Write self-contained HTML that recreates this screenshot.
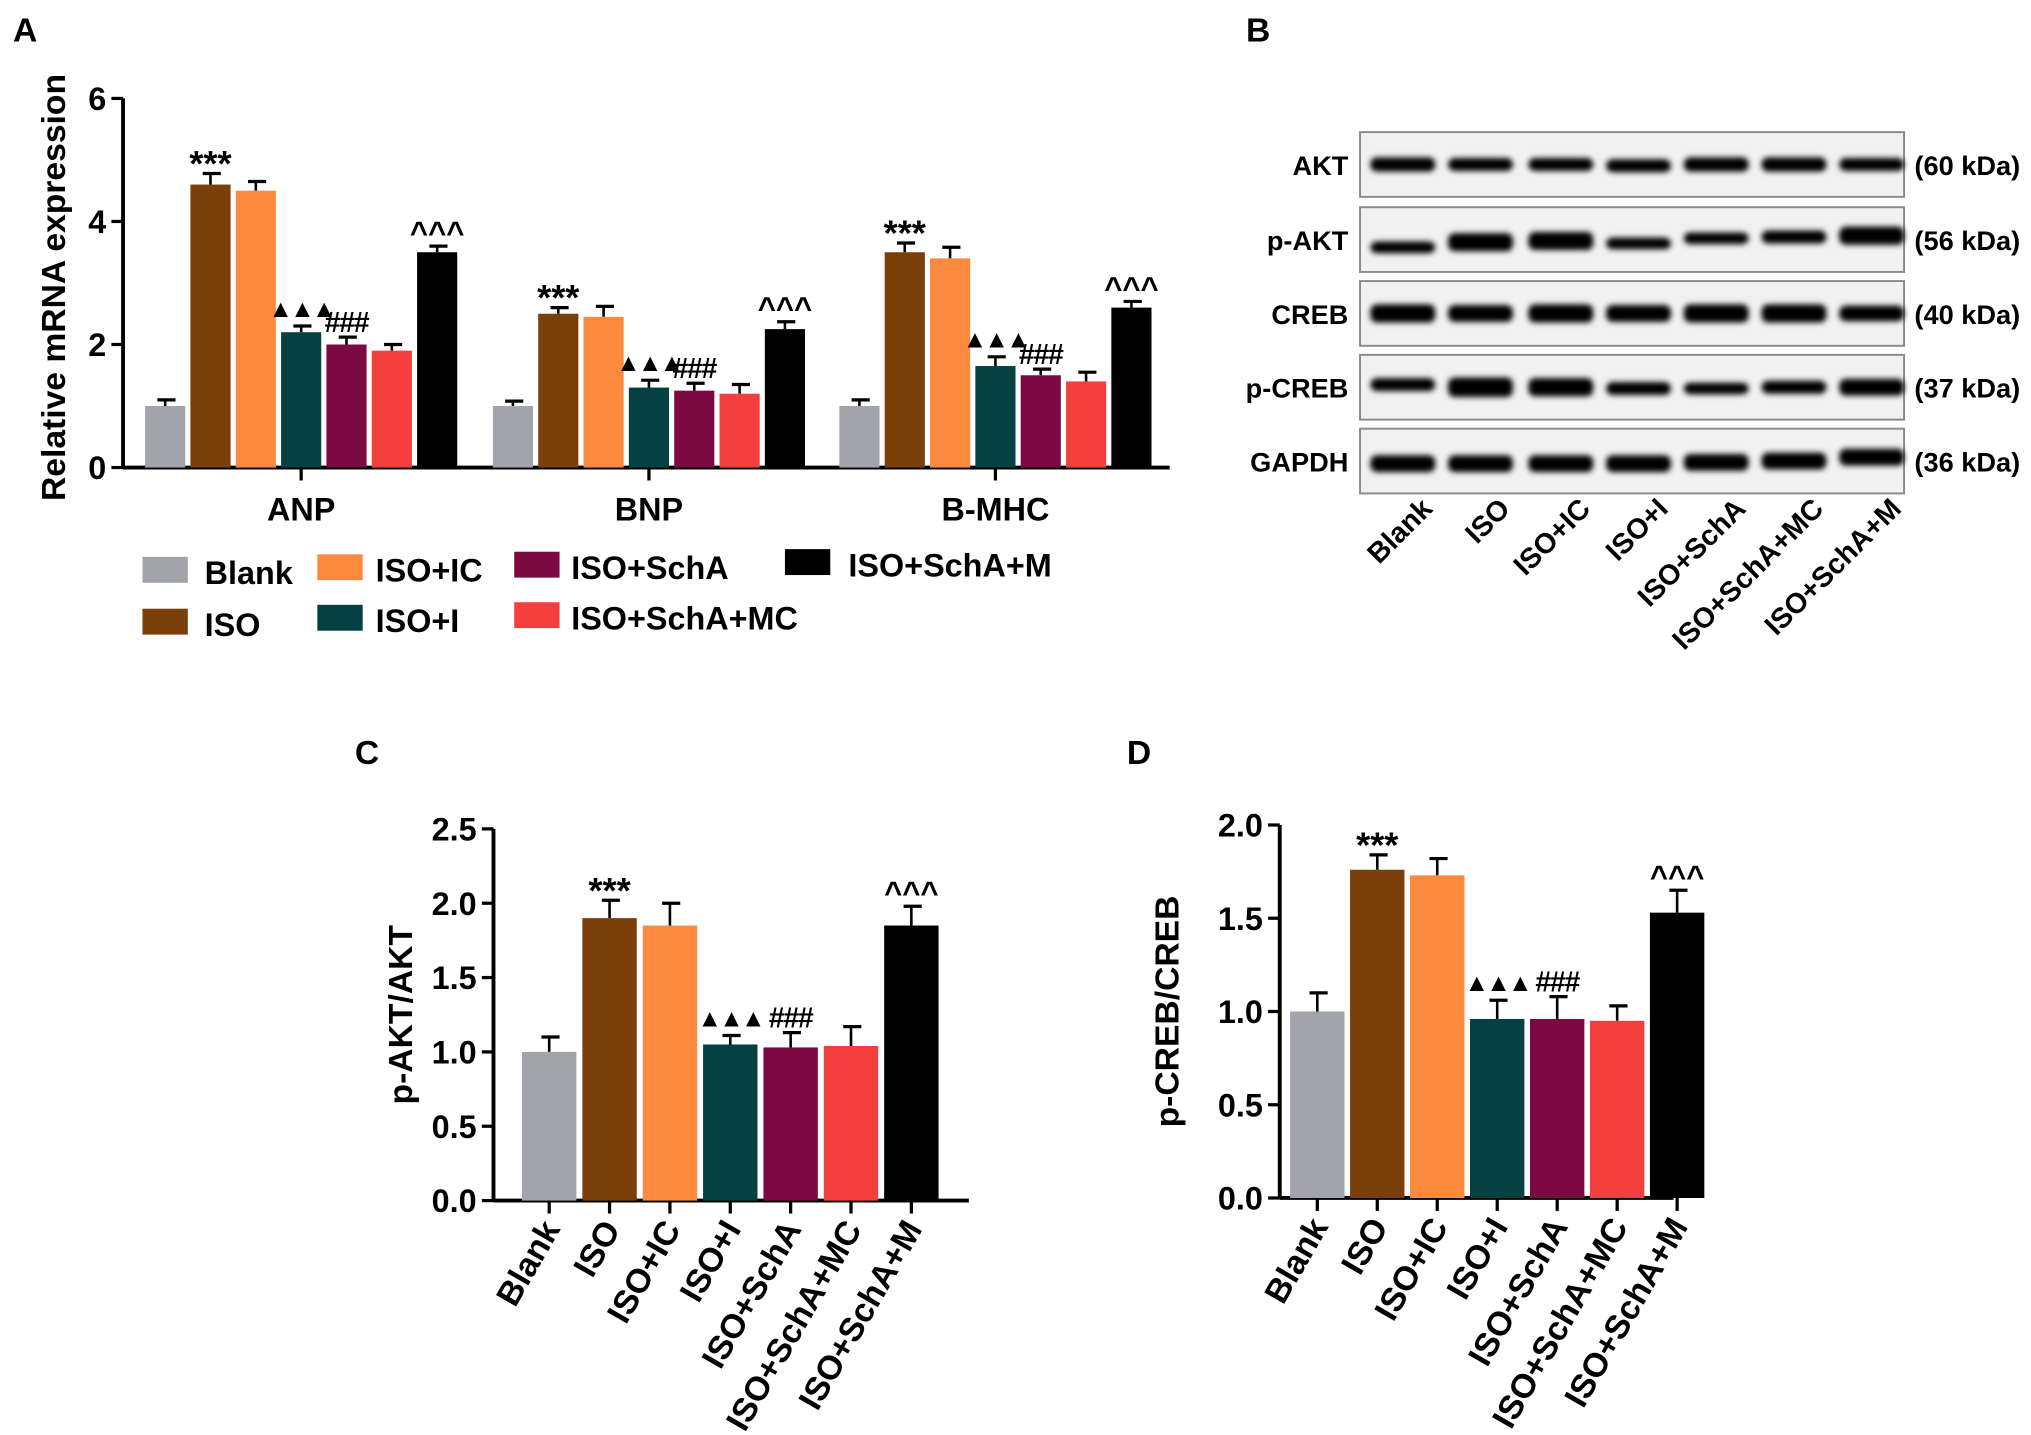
<!DOCTYPE html>
<html><head><meta charset="utf-8"><style>
html,body{margin:0;padding:0;background:#fff;}
svg{display:block;font-family:"Liberation Sans",Arial,sans-serif;font-weight:bold;}
</style></head><body>
<svg id="fig" width="2031" height="1435" viewBox="0 0 1568 1108" preserveAspectRatio="none" xmlns="http://www.w3.org/2000/svg">
<defs><filter id="blur" x="-20%" y="-100%" width="140%" height="300%"><feGaussianBlur stdDeviation="2.2"/></filter></defs>
<g id="root"></g>
</svg>
<script>
// ---- data ----
const groups = ["Blank","ISO","ISO+IC","ISO+I","ISO+SchA","ISO+SchA+MC","ISO+SchA+M"];
const colors = ["#a3a3ab","#7b3f0c","#fb8a3e","#064141","#7c0a42","#f53f3f","#000000"];
const genesA = ["ANP","BNP","B-MHC"];
const anpVals = [1.0,4.6,4.5,2.2,2.0,1.9,3.5];
const anpErr = [0.1,0.18,0.15,0.1,0.12,0.1,0.1];
const bnpVals = [1.0,2.5,2.45,1.3,1.25,1.2,2.25];
const bnpErr = [0.08,0.1,0.17,0.12,0.12,0.15,0.12];
const mhcVals = [1.0,3.5,3.4,1.65,1.5,1.4,2.6];
const mhcErr = [0.1,0.15,0.18,0.15,0.1,0.15,0.1];
const ticksA = [0,2,4,6];
const aktVals = [1.0,1.9,1.85,1.05,1.03,1.04,1.85];
const aktErr = [0.1,0.12,0.15,0.06,0.1,0.13,0.13];
const ticksC = [0,0.5,1.0,1.5,2.0,2.5];
const crebVals = [1.0,1.76,1.73,0.96,0.96,0.95,1.53];
const crebErr = [0.1,0.08,0.09,0.1,0.12,0.08,0.12];
const ticksD = [0,0.5,1.0,1.5,2.0];
const annot = ["","***","","▲▲▲","###","","^^^"];
const blotRows = ["AKT","p-AKT","CREB","p-CREB","GAPDH"];
const blotKda = ["(60 kDa)","(56 kDa)","(40 kDa)","(37 kDa)","(36 kDa)"];

const NS="http://www.w3.org/2000/svg";
const root=document.getElementById('root');
function el(tag,attrs,parent,text){const e=document.createElementNS(NS,tag);for(const k in attrs)e.setAttribute(k,attrs[k]);if(text!==undefined)e.textContent=text;(parent||root).appendChild(e);return e;}

[["A",10,32],["B",962,32],["C",274,590],["D",870,590]].forEach(p=>{
  const t=el('text',{x:p[1],y:p[2],'font-size':26},root,p[0]);
  
  
});

function yAxis(g,x0,yBottom,yTop,ticks,max,fmt){
  const ys=v=>yBottom-(v/max)*(yBottom-yTop);
  const ax=el('line',{x1:x0,y1:yBottom,x2:x0,y2:yTop,stroke:'#000','stroke-width':3},g);
  
  ticks.forEach(t=>{
    el('line',{x1:x0-9,y1:ys(t),x2:x0,y2:ys(t),stroke:'#000','stroke-width':2.5},g);
    const tl=el('text',{x:x0-13,y:ys(t)+9,'font-size':25,'text-anchor':'end'},g,fmt(t));
    
  });
  return ys;
}
function bar(g,x,w,v,e,ys,color,name,ann){
  const y=ys(v),y0=ys(0);
  const ey=ys(v+e);
  el('line',{x1:x+w/2,y1:y,x2:x+w/2,y2:ey,stroke:'#000','stroke-width':2},g);
  el('line',{x1:x+w/2-6,y1:ey,x2:x+w/2+8,y2:ey,stroke:'#000','stroke-width':2.5},g);
  const r=el('rect',{x:x,y:y,width:w,height:y0-y,fill:color},g);
  
  if(ann){
    let a;
    if(ann==="***") a=el('text',{x:x+w/2,y:ey+2,'font-size':28,'text-anchor':'middle'},g,ann);
    else if(ann==="▲▲▲") a=el('text',{x:x+w/2,y:ey-7,'font-size':19,'text-anchor':'middle','letter-spacing':'-2'},g,ann);
    else if(ann==="###") a=el('text',{x:x+w/2,y:ey-4,'font-size':22,'text-anchor':'middle','letter-spacing':'-1'},g,ann);
    else a=el('text',{x:x+w/2,y:ey-2,'font-size':24,'text-anchor':'middle'},g,ann);
    
  }
}

// ---- Panel A ----
(function(){
  const g=el('g',{});
  const x0=95,yB=361,yT=76;
  const ys=yAxis(g,x0,yB,yT,ticksA,6,t=>String(t));
  const xa=el('line',{x1:x0,y1:yB,x2:903,y2:yB,stroke:'#000','stroke-width':3},g);
  
  const centers=[232.5,501,768.5];const step=35,w=31;
  const sets=[[anpVals,anpErr],[bnpVals,bnpErr],[mhcVals,mhcErr]];
  sets.forEach((s,gi)=>{
    const c=centers[gi];
    el('line',{x1:c,y1:yB,x2:c,y2:yB+10,stroke:'#000','stroke-width':2.5},g);
    const lab=el('text',{x:c,y:yB+41,'font-size':25,'text-anchor':'middle'},g,genesA[gi]);
    
    s[0].forEach((v,i)=>{
      const x=c+(i-3)*step-w/2;
      bar(g,x,w,v,s[1][i],ys,colors[i],'bar-'+genesA[gi].toLowerCase()+'-'+i,annot[i]);
    });
  });
  const yl=el('text',{x:0,y:0,'font-size':26,'text-anchor':'middle',transform:'translate(50,222) rotate(-90)'},g,'Relative mRNA expression');
  
  const leg=[[0,110,430,158,451],[1,110,470,158,491],[2,245,428,290,449],[3,245,467,290,488],[4,397,426,441,447],[5,397,465,441,486],[6,606,424,655,445]];
  leg.forEach(l=>{
    const lg=el('g',{},g);
    el('rect',{x:l[1],y:l[2],width:35,height:20,fill:colors[l[0]]},lg);
    el('text',{x:l[3],y:l[4],'font-size':25},lg,groups[l[0]]);
  });
})();

// ---- Panel B (western blot) ----
(function(){
  const g=el('g',{});
  const bx=1050,bw=420,tops=[102,160,217,274,331],bh=50;
  const lanes=[1083,1143,1205,1265,1325,1385,1445];
  const thick=[[11,10,10,10,11,11,10],[9,14,14,9,9,10,14],[14,13,14,13,14,14,12],[10,15,14,10,9,10,13],[13,13,13,13,13,13,13]];
  const offs=[[0,0,0,1,0,0,0],[6,2,1,3,-1,-2,-3],[0,0,0,0,0,0,0],[-2,0,0,1,1,0,0],[2,2,2,2,1,0,-3]];
  tops.forEach((t,r)=>{
    const row=el('g',{},g);
    el('rect',{x:bx,y:t,width:bw,height:bh,fill:'#f1f1f1',stroke:'#8a8a8a','stroke-width':1.5},row);
    lanes.forEach((lx,i)=>{
      el('rect',{x:lx-25,y:t+bh/2-thick[r][i]/2+offs[r][i],width:50,height:thick[r][i],rx:5,fill:'#000',filter:'url(#blur)'},row);
    });
    const lab=el('text',{x:1041,y:t+bh/2+8,'font-size':21,'text-anchor':'end'},row,blotRows[r]);
    
    const kd=el('text',{x:1478,y:t+bh/2+8,'font-size':21},row,blotKda[r]);
    
  });
  lanes.forEach((lx,i)=>{
    const t=el('text',{x:0,y:0,'font-size':22,'text-anchor':'end',transform:`translate(${lx+24},${394}) rotate(-45)`},g,groups[i]);
    
  });
})();

// ---- Panels C and D ----
function smallChart(name,x0,yB,yT,ticks,max,vals,errs,first,step,w,axEnd,title,titleX){
  const g=el('g',{});
  const ys=yAxis(g,x0,yB,yT,ticks,max,t=>t.toFixed(1));
  const xa=el('line',{x1:x0,y1:yB,x2:axEnd,y2:yB,stroke:'#000','stroke-width':3},g);
  
  vals.forEach((v,i)=>{
    const x=first+i*step;
    bar(g,x,w,v,errs[i],ys,colors[i],'bar-'+groups[i].toLowerCase(),annot[i]);
    el('line',{x1:x+w/2,y1:yB,x2:x+w/2,y2:yB+10,stroke:'#000','stroke-width':2.5},g);
    const t=el('text',{x:0,y:0,'font-size':26,'text-anchor':'end',transform:`translate(${x+w/2+9},${yB+22}) rotate(-60)`},g,groups[i]);
    
  });
  const yl=el('text',{x:0,y:0,'font-size':26,'text-anchor':'middle',transform:`translate(${titleX},${(yB+yT)/2}) rotate(-90)`},g,title);
  
}
smallChart('panel-c-chart',381,927,640,ticksC,2.5,aktVals,aktErr,403,46.6,42,748,'p-AKT/AKT',318);
smallChart('panel-d-chart',988,925,637,ticksD,2.0,crebVals,crebErr,996,46.3,42,1292,'p-CREB/CREB',910);
</script>
</body></html>
